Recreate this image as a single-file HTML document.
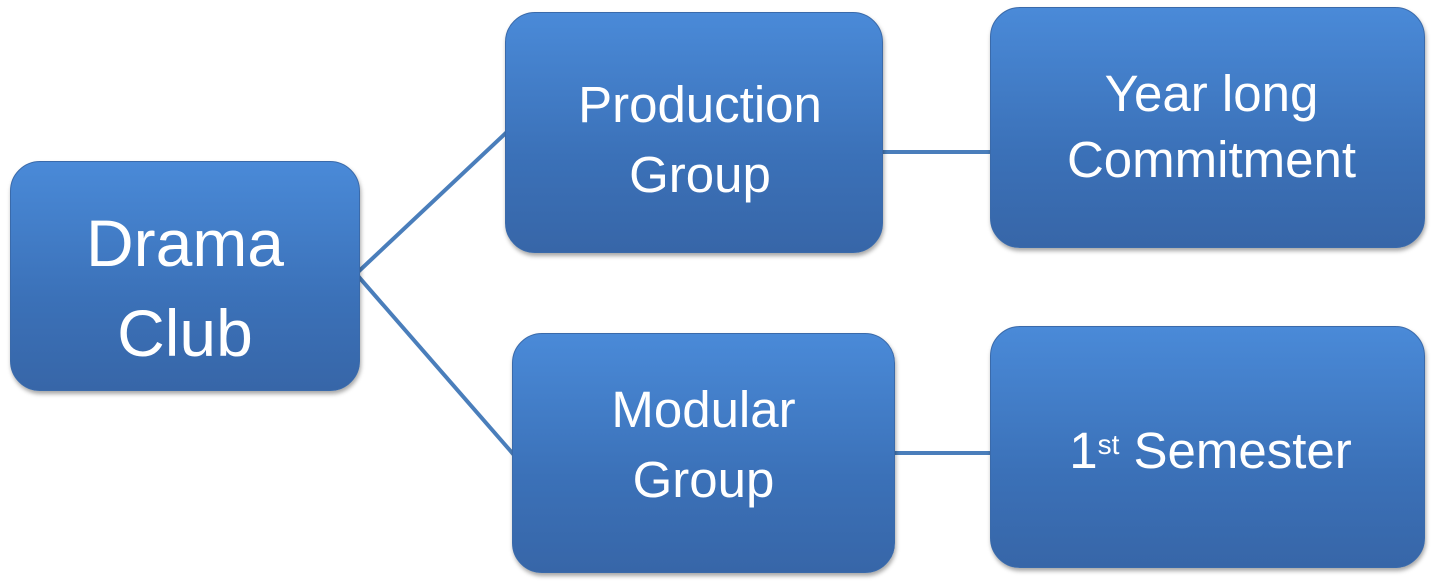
<!DOCTYPE html>
<html><head><style>
html,body{margin:0;padding:0;background:#fff;}
body{width:1435px;height:588px;position:relative;overflow:hidden;font-family:"Liberation Sans",sans-serif;}
.b{position:absolute;border-radius:30px;background:linear-gradient(#4a8ad8,#3b71b8 60%,#3766a8);box-shadow:1px 3px 4px rgba(0,0,0,.35);color:#fff;display:flex;align-items:center;justify-content:center;text-align:center;font-size:51px;line-height:70px;border:1px solid #3a6aaa;box-sizing:border-box;}
svg{position:absolute;left:0;top:0;}
</style></head><body>
<svg width="1435" height="588"><g stroke="#4a7ebb" stroke-width="4" fill="none">
<line x1="358" y1="272" x2="508" y2="131"/>
<line x1="358" y1="276" x2="514" y2="455"/>
<line x1="880" y1="152" x2="992" y2="152"/>
<line x1="892" y1="453" x2="992" y2="453"/>
</g></svg>
<div class="b" style="left:10px;top:161px;width:350px;height:230px;font-size:66px;line-height:90px;padding-top:24px">Drama<br>Club</div>
<div class="b" style="left:505px;top:12px;width:378px;height:241px;padding-top:14px;padding-left:12px">Production<br>Group</div>
<div class="b" style="left:990px;top:7px;width:435px;height:241px;padding-bottom:2px;padding-left:8px;line-height:66px">Year long<br>Commitment</div>
<div class="b" style="left:512px;top:333px;width:383px;height:240px;padding-bottom:16px">Modular<br>Group</div>
<div class="b" style="left:990px;top:326px;width:435px;height:242px;padding-top:8px;padding-left:6px">1<sup style="font-size:28px;line-height:0;position:relative;top:-6px">st</sup>&nbsp;Semester</div>
</body></html>
